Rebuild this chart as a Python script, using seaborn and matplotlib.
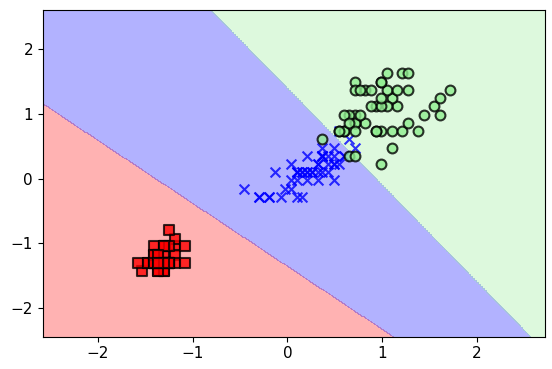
import numpy as np
import seaborn as sns
import matplotlib.pyplot as plt
from matplotlib.colors import ListedColormap

# standardized petal length / width
setosa_x = [-1.36, -1.36, -1.41, -1.30, -1.36, -1.19, -1.36, -1.30, -1.36, -1.30,
            -1.30, -1.25, -1.36, -1.53, -1.47, -1.30, -1.41, -1.36, -1.19, -1.30,
            -1.19, -1.30, -1.58, -1.19, -1.08, -1.25, -1.25, -1.30, -1.36, -1.25,
            -1.25, -1.30, -1.30, -1.36, -1.30, -1.47, -1.41, -1.36, -1.41, -1.30,
            -1.41, -1.41, -1.41, -1.25, -1.08, -1.36, -1.25, -1.36, -1.30, -1.36]
setosa_y = [-1.31, -1.31, -1.31, -1.31, -1.31, -1.05, -1.18, -1.31, -1.31, -1.44,
            -1.31, -1.31, -1.44, -1.44, -1.31, -1.05, -1.05, -1.18, -1.18, -1.18,
            -1.31, -1.05, -1.31, -0.93, -1.31, -1.31, -1.05, -1.31, -1.31, -1.31,
            -1.31, -1.05, -1.44, -1.31, -1.31, -1.31, -1.31, -1.44, -1.31, -1.31,
            -1.18, -1.18, -1.31, -0.80, -1.05, -1.18, -1.31, -1.31, -1.31, -1.31]

versicolor_x = [0.49, 0.37, 0.60, 0.10, 0.43, 0.37, 0.49, -0.30, 0.43, 0.04,
                -0.19, 0.21, 0.10, 0.49, -0.13, 0.32, 0.37, 0.15, 0.37, 0.04,
                0.54, 0.10, 0.60, 0.49, 0.26, 0.32, 0.54, 0.65, 0.37, -0.19,
                -0.02, -0.07, 0.04, 0.71, 0.37, 0.37, 0.49, 0.32, 0.15, 0.10,
                0.32, 0.43, 0.10, -0.30, 0.21, 0.21, 0.21, 0.26, -0.46, 0.15]
versicolor_y = [0.22, 0.35, 0.35, 0.10, 0.35, 0.10, 0.48, -0.29, 0.10, 0.22,
                -0.29, 0.35, -0.29, 0.22, 0.10, 0.22, 0.35, -0.29, 0.35, -0.16,
                0.73, 0.10, 0.35, -0.03, 0.10, 0.22, 0.22, 0.61, 0.35, -0.29,
                -0.16, -0.29, -0.03, 0.48, 0.35, 0.48, 0.35, 0.10, 0.10, 0.10,
                -0.03, 0.22, -0.03, -0.29, 0.10, -0.03, 0.10, 0.10, -0.16, 0.10]

virginica_x = [1.21, 0.71, 1.16, 0.99, 1.10, 1.55, 0.37, 1.38, 1.10, 1.27,
               0.71, 0.82, 0.93, 0.65, 0.71, 0.82, 0.93, 1.61, 1.72, 0.65,
               1.05, 0.60, 1.61, 0.60, 1.05, 1.21, 0.54, 0.60, 0.99, 1.10,
               1.27, 1.44, 0.99, 0.71, 0.99, 1.27, 0.99, 0.93, 0.54, 0.88,
               0.99, 0.71, 0.71, 1.16, 1.05, 0.77, 0.65, 0.77, 0.88, 0.71]
virginica_y = [1.63, 0.86, 1.12, 0.73, 1.24, 1.12, 0.61, 0.73, 0.73, 1.63,
               0.99, 0.86, 1.12, 0.99, 1.50, 1.37, 0.73, 1.24, 1.37, 0.35,
               1.37, 0.99, 0.99, 0.73, 1.12, 0.73, 0.73, 0.73, 1.12, 0.48,
               0.86, 0.99, 1.24, 0.35, 0.22, 1.37, 1.50, 0.73, 0.73, 1.12,
               1.50, 1.37, 0.86, 1.37, 1.63, 1.37, 0.86, 0.99, 1.37, 0.73]

# decision boundaries: y = slope * x + intercept
# (first: setosa / versicolor, second: versicolor / virginica)
boundary_slope = [-0.976, -1.50]
boundary_intercept = [-1.359, 1.395]

x_range = [-2.58, 2.72]
y_range = [-2.45, 2.61]

colors = ['red', 'blue', 'lightgreen']
markers = ['s', 'x', 'o']

fig = plt.figure(figsize=(5.52, 3.69), dpi=100)
ax = fig.add_axes([0.0774, 0.0875, 0.9105, 0.8854])

# decision regions
xx, yy = np.meshgrid(np.arange(x_range[0], x_range[1], 0.01),
                     np.arange(y_range[0], y_range[1], 0.01))
Z = np.ones_like(xx)
Z[yy < boundary_slope[0] * xx + boundary_intercept[0]] = 0
Z[yy > boundary_slope[1] * xx + boundary_intercept[1]] = 2
ax.contourf(xx, yy, Z, levels=[-0.5, 0.5, 1.5, 2.5], alpha=0.3,
            cmap=ListedColormap(colors))

# samples
classes = [(setosa_x, setosa_y), (versicolor_x, versicolor_y), (virginica_x, virginica_y)]
for idx, (cx, cy) in enumerate(classes):
    kw = dict(edgecolor='black') if markers[idx] != 'x' else {}
    sns.scatterplot(x=cx, y=cy, ax=ax, marker=markers[idx], color=colors[idx],
                    alpha=0.8, s=50, linewidth=1.5, legend=False, **kw)

ax.set_xlim(x_range)
ax.set_ylim(y_range)
ax.set_xticks([-2, -1, 0, 1, 2])
ax.set_yticks([-2, -1, 0, 1, 2])
ax.tick_params(labelsize=11)

plt.savefig('out.png', dpi=100)
plt.close()
